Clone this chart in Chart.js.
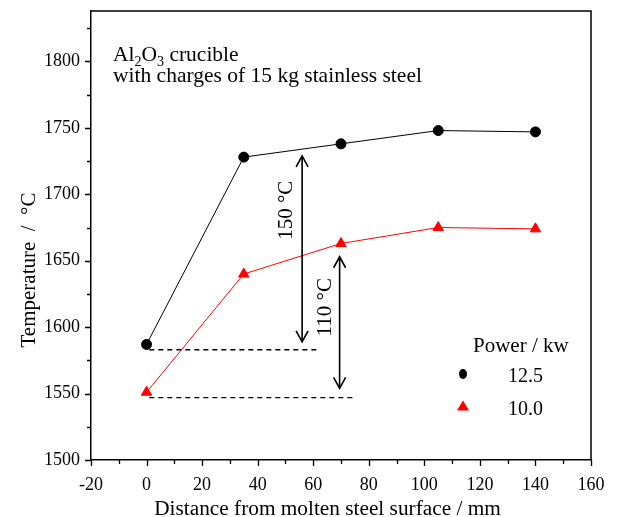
<!DOCTYPE html>
<html><head><meta charset="utf-8">
<script src="https://cdn.jsdelivr.net/npm/chart.js@4/dist/chart.umd.min.js"></script>
<style>html,body{margin:0;padding:0;background:#fff}</style>
</head><body>
<canvas id="c" width="621" height="517" style="display:block;width:621px;height:517px"></canvas>
<script>
// ---- data ----
const distances = [0, 35, 70, 105, 140];
const temp125 = [1587, 1728, 1738, 1748, 1747];
const temp100 = [1551, 1640, 1663, 1675, 1674];
const seriesLabels = ['12.5', '10.0'];
const legendTitle = 'Power / kw';
const xTickValues = [-20, 0, 20, 40, 60, 80, 100, 120, 140, 160];
const yTickValues = [1500, 1550, 1600, 1650, 1700, 1750, 1800];
const xTitle = 'Distance from molten steel surface / mm';
const yTitle = 'Temperature  /  °C';
// reference dashed lines: level, start, end (data units)
const dashLevels = [1583, 1547];
const dashStarts = [1, 1];
const dashEnds = [62, 75];
// double arrows: x position, top, bottom (data units) + labels
const arrowX = [56, 69.5];
const arrowTop = [1729, 1653];
const arrowBottom = [1589, 1554];
const arrowLabels = ['150 °C', '110 °C'];
const arrowLabelX = [50.2, 64.4];
const arrowLabelY = [1688, 1615];

const FONT = '"Liberation Serif", "Times New Roman", serif';
Chart.defaults.font.family = FONT;
Chart.defaults.color = '#000';

const toPts = (ys) => distances.map((x, i) => ({x, y: ys[i]}));

const overlay = {
  id: 'overlay',
  afterDatasetsDraw(chart) {
    const ctx = chart.ctx;
    const xs = chart.scales.x, ys = chart.scales.y;
    const a = chart.chartArea;
    ctx.save();
    // frame top/right
    ctx.strokeStyle = '#000';
    ctx.lineWidth = 1.5;
    ctx.beginPath();
    ctx.moveTo(a.left, a.top); ctx.lineTo(a.right, a.top); ctx.lineTo(a.right, a.bottom);
    ctx.stroke();
    // ticks
    ctx.lineWidth = 1.3;
    ctx.beginPath();
    xs.ticks.forEach(t => {
      const px = Math.round(xs.getPixelForValue(t.value)) + 0.5;
      const len = xTickValues.includes(t.value) ? 6 : 4;
      ctx.moveTo(px, a.bottom); ctx.lineTo(px, a.bottom + len);
    });
    ys.ticks.forEach(t => {
      const py = Math.round(ys.getPixelForValue(t.value)) + 0.5;
      const len = yTickValues.includes(t.value) ? 6 : 4;
      ctx.moveTo(a.left, py); ctx.lineTo(a.left - len, py);
    });
    ctx.stroke();
    // dashed reference lines
    ctx.setLineDash([5, 4]);
    ctx.lineWidth = 1.3;
    dashLevels.forEach((lv, i) => {
      const py = ys.getPixelForValue(lv);
      ctx.beginPath();
      ctx.moveTo(xs.getPixelForValue(dashStarts[i]), py);
      ctx.lineTo(xs.getPixelForValue(dashEnds[i]), py);
      ctx.stroke();
    });
    ctx.setLineDash([]);
    // arrows
    ctx.lineWidth = 1.6;
    arrowX.forEach((ax, i) => {
      const px = xs.getPixelForValue(ax);
      const t = ys.getPixelForValue(arrowTop[i]);
      const b = ys.getPixelForValue(arrowBottom[i]);
      ctx.beginPath();
      ctx.moveTo(px, t); ctx.lineTo(px, b);
      ctx.moveTo(px - 6, t + 11); ctx.lineTo(px, t); ctx.lineTo(px + 6, t + 11);
      ctx.moveTo(px - 6, b - 11); ctx.lineTo(px, b); ctx.lineTo(px + 6, b - 11);
      ctx.stroke();
      ctx.save();
      ctx.translate(xs.getPixelForValue(arrowLabelX[i]), ys.getPixelForValue(arrowLabelY[i]));
      ctx.rotate(-Math.PI / 2);
      ctx.font = '21px ' + FONT;
      ctx.textAlign = 'center';
      ctx.textBaseline = 'middle';
      ctx.fillStyle = '#000';
      ctx.fillText(arrowLabels[i], 0, 0);
      ctx.restore();
    });
    // text block Al2O3
    ctx.fillStyle = '#000';
    ctx.textAlign = 'left';
    ctx.textBaseline = 'alphabetic';
    let x = a.left + 22, y = a.top + 50;
    const parts = [['Al', 0], ['2', 1], ['O', 0], ['3', 1], [' crucible', 0]];
    parts.forEach(([s, sub]) => {
      ctx.font = (sub ? '14px ' : '21.5px ') + FONT;
      ctx.fillText(s, x, y + (sub ? 4.5 : 0));
      x += ctx.measureText(s).width;
    });
    ctx.font = '21.5px ' + FONT;
    ctx.fillText('with charges of 15 kg stainless steel', a.left + 22, y + 21);
    // legend
    const lx = a.left + 372;
    ctx.font = '21px ' + FONT;
    ctx.fillText(legendTitle, lx + 10, a.top + 341);
    const dsets = chart.data.datasets;
    [0, 1].forEach(i => {
      const cy = a.top + 363 + i * 32.5;
      ctx.fillStyle = dsets[i].pointBackgroundColor;
      ctx.strokeStyle = dsets[i].pointBorderColor;
      ctx.lineWidth = 1;
      ctx.beginPath();
      if (i === 0) { ctx.ellipse(lx, cy, 4, 5, 0, 0, Math.PI * 2); }
      else { ctx.moveTo(lx, cy - 6); ctx.lineTo(lx + 6, cy + 4); ctx.lineTo(lx - 6, cy + 4); ctx.closePath(); }
      ctx.fill();
      ctx.fillStyle = '#000';
      ctx.font = '20px ' + FONT;
      ctx.fillText(seriesLabels[i], lx + 45, cy + 8);
    });
    // axis titles
    ctx.font = '21.3px ' + FONT;
    ctx.textAlign = 'center';
    ctx.fillText(xTitle, (a.left + a.right) / 2 - 13.5, 515);
    ctx.save();
    ctx.translate(35, 270);
    ctx.rotate(-Math.PI / 2);
    ctx.font = '21px ' + FONT;
    ctx.textBaseline = 'alphabetic';
    ctx.fillText(yTitle, 0, 0);
    ctx.restore();
    ctx.restore();
  }
};

new Chart(document.getElementById('c'), {
  type: 'scatter',
  data: {
    datasets: [
      {
        label: seriesLabels[0], data: toPts(temp125), showLine: true,
        borderColor: '#000', borderWidth: 1, pointStyle: 'circle', pointRadius: 5,
        pointBackgroundColor: '#000', pointBorderColor: '#000'
      },
      {
        label: seriesLabels[1], data: toPts(temp100), showLine: true,
        borderColor: '#ff0000', borderWidth: 1, pointStyle: 'triangle', pointRadius: 6,
        pointBackgroundColor: '#ff0000', pointBorderColor: '#ff0000'
      }
    ]
  },
  options: {
    responsive: false, animation: false, devicePixelRatio: 1,
    layout: { padding: { top: 11, right: 30, left: 0, bottom: 0 } },
    plugins: { legend: { display: false }, tooltip: { enabled: false } },
    scales: {
      x: {
        type: 'linear', min: -20, max: 160,
        afterFit(s) { s.height = 57; s.paddingLeft = 0; s.paddingRight = 0; },
        grid: { display: false, drawTicks: true, tickLength: 6 },
        border: { display: true, color: '#000', width: 1.5 },
        ticks: {
          stepSize: 10, padding: 8, maxRotation: 0, autoSkip: false,
          font: { size: 18 }, color: '#000',
          callback: v => xTickValues.includes(v) ? String(v) : ''
        }
      },
      y: {
        type: 'linear', min: 1500, max: 1838,
        afterFit(s) { s.width = 91; s.paddingTop = 0; s.paddingBottom = 0; },
        grid: { display: false, drawTicks: true, tickLength: 6 },
        border: { display: true, color: '#000', width: 1.5 },
        ticks: {
          stepSize: 25, padding: 5, includeBounds: false, autoSkip: false,
          font: { size: 18 }, color: '#000',
          callback: v => yTickValues.includes(v) ? String(v) : ''
        }
      }
    }
  },
  plugins: [overlay]
});
</script>
</body></html>
